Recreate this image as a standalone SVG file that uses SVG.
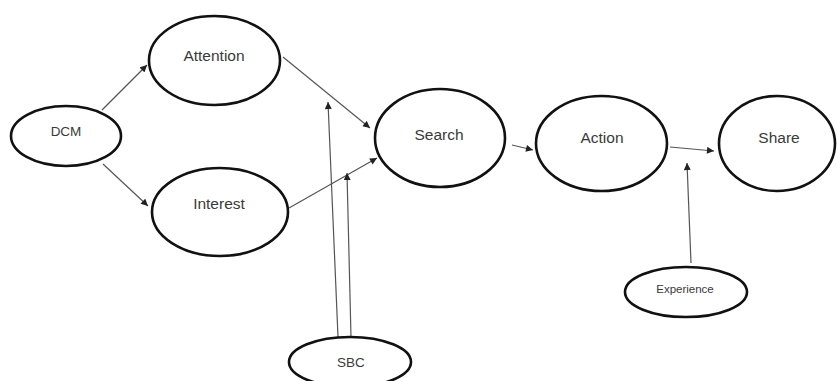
<svg xmlns="http://www.w3.org/2000/svg" width="837" height="381" viewBox="0 0 837 381">
<defs>
<marker id="ah" viewBox="0 0 10 10" refX="10" refY="5" markerWidth="8" markerHeight="7" markerUnits="userSpaceOnUse" orient="auto">
<path d="M0,0 L10,5 L0,10 z" fill="#222"/>
</marker>
<style>
.n{fill:#fff;stroke:#111;stroke-width:2.6}
.t{font-family:"Liberation Sans",Arial,sans-serif;font-size:15.5px;fill:#3a3a3a;text-anchor:middle;dominant-baseline:central}
.c{stroke:#555;stroke-width:1.2;fill:none;marker-end:url(#ah)}
</style>
</defs>
<rect width="837" height="381" fill="#fff"/>
<g id="connectors">
<line class="c" x1="102" y1="110" x2="147" y2="65"/>
<line class="c" x1="103" y1="164" x2="148" y2="206"/>
<line class="c" x1="283" y1="57" x2="370" y2="128"/>
<line class="c" x1="289" y1="208" x2="377" y2="158"/>
<line class="c" x1="338" y1="337" x2="328" y2="102"/>
<line class="c" x1="351" y1="337" x2="347" y2="173"/>
<line class="c" x1="512" y1="145" x2="533" y2="150"/>
<line class="c" x1="670" y1="147" x2="714" y2="151"/>
<line class="c" x1="691" y1="263" x2="687" y2="163"/>
</g>
<g id="DCM"><ellipse class="n" cx="66" cy="136" rx="55" ry="30"/><text class="t" x="66" y="131" style="font-size:13.5px">DCM</text></g>
<g id="Attention"><ellipse class="n" cx="214.5" cy="60.5" rx="65.5" ry="44.5"/><text class="t" x="214" y="55">Attention</text></g>
<g id="Interest"><ellipse class="n" cx="220" cy="212" rx="68" ry="44"/><text class="t" x="219" y="203">Interest</text></g>
<g id="Search"><ellipse class="n" cx="440" cy="138" rx="65" ry="49"/><text class="t" x="439" y="134">Search</text></g>
<g id="Action"><ellipse class="n" cx="601.5" cy="143.5" rx="65.5" ry="47.5"/><text class="t" x="602" y="137">Action</text></g>
<g id="Share"><ellipse class="n" cx="777" cy="143.5" rx="58" ry="47.5"/><text class="t" x="779" y="137">Share</text></g>
<g id="Experience"><ellipse class="n" cx="686" cy="292" rx="61" ry="25"/><text class="t" x="685" y="289" style="font-size:11.5px">Experience</text></g>
<g id="SBC"><ellipse class="n" cx="350" cy="362" rx="61" ry="25"/><text class="t" x="351" y="362" style="font-size:13.5px">SBC</text></g>
</svg>
